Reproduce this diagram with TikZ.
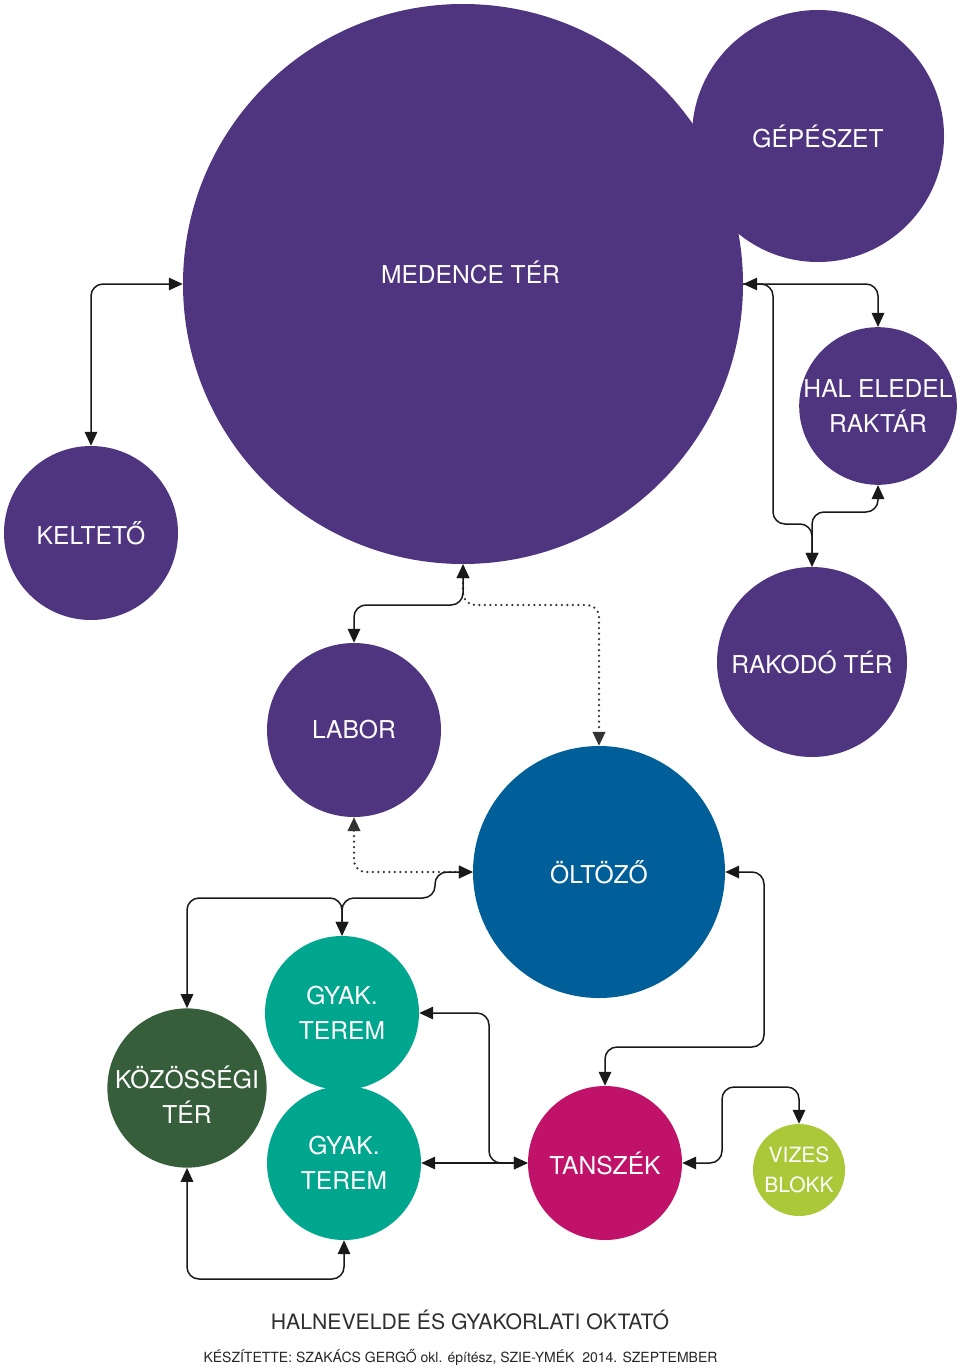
\documentclass[tikz,border=0pt]{standalone}
\usepackage{fontspec}
\setmainfont{TeX Gyre Heros}
\usetikzlibrary{arrows.meta}
\definecolor{purp}{HTML}{4F3480}
\definecolor{oblue}{HTML}{005E99}
\definecolor{teal2}{HTML}{00A68E}
\definecolor{dgreen}{HTML}{365E3A}
\definecolor{magen}{HTML}{C01268}
\definecolor{lime2}{HTML}{AAC838}
\definecolor{titlegray}{HTML}{2E2E2E}
\begin{document}
\begin{tikzpicture}[x=1pt,y=-1pt,
  bubble/.style={circle,inner sep=0pt,text=white,align=center,font=\fontsize{24.6}{35}\selectfont},
  conn/.style={line width=1.5pt,rounded corners=12pt,draw=black!90},
  dotconn/.style={line width=2.5pt,rounded corners=12pt,draw=black!80,line cap=round,dash pattern=on 0pt off 5.5pt},
  >={Triangle[length=14pt,width=12.5pt]}]
\useasboundingbox (0,0) rectangle (960,1367);

% bubbles
\node[bubble,fill=purp,minimum size=560pt] (medence) at (463,284) {\hspace*{15pt}\raisebox{12pt}[\height][\depth]{MEDENCE TÉR}};
\node[bubble,fill=purp,minimum size=252pt] (gepeszet) at (818,136) {GÉPÉSZET};
\node[bubble,fill=purp,minimum size=156pt] (hal) at (878,406) {HAL ELEDEL\\RAKTÁR};
\node[bubble,fill=purp,minimum size=174pt] (keltet) at (91,533) {KELTETŐ};
\node[bubble,fill=purp,minimum size=190pt] (rakodo) at (812,662) {RAKODÓ TÉR};
\node[bubble,fill=purp,minimum size=174pt] (labor) at (354,730) {LABOR};
\node[bubble,fill=oblue,minimum size=252pt] (oltozo) at (599,872) {ÖLTÖZŐ};
\node[bubble,fill=teal2,minimum size=154pt] (gyak1) at (342,1013) {GYAK.\\TEREM};
\node[bubble,fill=teal2,minimum size=154pt] (gyak2) at (344,1163) {GYAK.\\TEREM};
\node[bubble,fill=dgreen,minimum size=154pt] (kozos) at (187,1088) {\raisebox{-11pt}[\height][\depth]{\begin{tabular}{@{}c@{}}KÖZÖSSÉGI\\TÉR\end{tabular}}};
\node[bubble,fill=magen,minimum size=154pt] (tanszek) at (605,1163) {TANSZÉK};
\node[bubble,fill=lime2,minimum size=92pt,font=\fontsize{21}{30}\selectfont] (vizes) at (799,1170) {VIZES\\BLOKK};

% junction coordinates
\coordinate (jm) at (463,605);
\coordinate (jr) at (773,284);

% connectors
\draw[conn,<->] (medence.west) -| (keltet.north);
\draw[conn,<->] (medence.east) -| (hal.north);
\draw[conn,->] (medence.east) -- (jr) -- (773,524) -- (812,524) -- (rakodo.north);
\draw[conn,<->] (hal.south) -- (878,512) -- (812,512) -- (rakodo.north);

\draw[dotconn,<->] (medence.south) -- (jm) -| (oltozo.north);
\draw[conn,<->] (medence.south) -- (jm) -| (labor.north);

\draw[dotconn,<->] (labor.south) |- (oltozo.west);
\draw[conn,<->] (oltozo.west) -- (435,872) -- (435,898) -- (342,898) -- (gyak1.north);
\draw[conn,<->] (kozos.north) |- (342,898) -- (gyak1.north);

\draw[conn,<->] (gyak1.east) -- (489,1013) -- (489,1163) -- (tanszek.west);
\draw[conn,<->] (gyak2.east) -- (tanszek.west);
\draw[conn,<->] (oltozo.east) -- (764,872) -- (764,1047) -| (tanszek.north);
\draw[conn,<->] (tanszek.east) -- (722,1163) -- (722,1087) -| (vizes.north);
\draw[conn,<->] (kozos.south) -- (187,1279) -| (gyak2.south);

% titles
\node[font=\fontsize{21.2}{24}\selectfont,text=titlegray] (title) at (470,1320) {HALNEVELDE ÉS GYAKORLATI OKTATÓ};
\node[font=\fontsize{14}{17}\selectfont,text=titlegray!80!black] (sub) at (460.5,1357) {KÉSZÍTETTE: SZAKÁCS GERGŐ okl. építész, SZIE-YMÉK~~2014. SZEPTEMBER};
\end{tikzpicture}
\end{document}
